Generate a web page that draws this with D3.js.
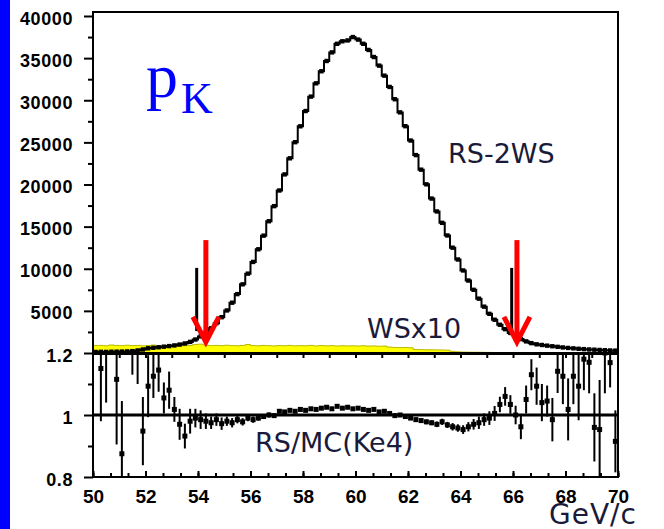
<!DOCTYPE html>
<html><head><meta charset="utf-8">
<script src="https://cdn.jsdelivr.net/npm/d3@7"></script>
<style>html,body{margin:0;padding:0;background:#fff;overflow:hidden}</style>
</head><body>
<svg id="c" width="664" height="529"></svg>
<script>
// ---- data ----
const binStart = 50, binWidth = 0.2, nBins = 100;
const rsMinus2ws = [
 120,140,130,150,160,170,190,220,300,420,
 560,620,680,750,820,900,1000,1130,1320,1600,
 1970,2420,2930,3540,4250,5050,5970,6990,8150,9420,
 10810,12310,13930,15640,17430,19290,21200,23110,25020,26910,
 28720,30430,32010,33440,34660,35680,36700,37000,37100,37500,
 37200,36700,35970,35130,34110,32920,31580,30120,28560,26920,
 25220,23490,21760,20020,18330,16800,15450,13950,12500,11100,
 9800,8600,7500,6450,5500,4650,3950,3350,2830,2380,
 1980,1650,1380,1170,1030,950,870,800,730,660,
 600,550,500,460,420,390,360,330,300,280];
const wsTimes10 = [
 880,900,860,950,900,870,920,880,900,860,
 890,940,870,900,850,880,930,860,890,1000,
 1050,930,880,900,870,920,880,860,900,1000,
 880,860,900,870,840,880,860,900,850,870,
 860,900,840,880,850,870,830,860,840,850,
 830,860,820,840,800,820,700,660,640,650,
 620,420,400,380,380,370,360,340,200,140,
 110,100,90,90,80,70,60,60,50,50,
 40,40,40,30,30,30,20,20,20,20,
 20,10,10,10,10,10,10,10,10,10];
const ratio = [
 null,1.15,1.22,null,1.115,0.875,null,1.26,1.25,0.948,
 1.093,1.125,1.145,1.055,1.08,1.018,0.97,0.932,0.98,0.99,
 0.985,0.98,0.975,0.985,0.972,0.98,0.975,0.985,0.978,0.99,
 0.985,0.99,0.995,1.0,0.998,1.012,1.01,1.015,1.012,1.018,
 1.015,1.02,1.018,1.022,1.025,1.02,1.028,1.022,1.025,1.02,
 1.022,1.018,1.015,1.018,1.01,1.012,1.005,0.998,1.0,0.995,
 0.99,0.985,0.982,0.978,0.975,0.97,0.978,0.968,0.962,0.958,
 0.953,0.962,0.97,0.975,0.985,0.99,1.005,1.034,1.06,1.034,
 1.0,0.962,1.05,1.13,1.093,1.04,1.045,0.985,1.141,1.125,
 1.018,1.125,1.093,1.18,1.17,0.96,0.953,1.2,1.169,0.915];
const ratioErr = [
 0,0.17,0.18,0,0.21,0.17,0,0.13,0.15,0.11,
 0.1,0.07,0.07,0.05,0.06,0.04,0.05,0.04,0.04,0.03,
 0.03,0.025,0.02,0.02,0.02,0.015,0.015,0.012,0.012,0.01,
 0.01,0.008,0.008,0.008,0.007,0.007,0.006,0.006,0.006,0.006,
 0.005,0.005,0.005,0.005,0.005,0.005,0.005,0.005,0.005,0.005,
 0.005,0.005,0.005,0.005,0.005,0.005,0.006,0.006,0.006,0.006,
 0.006,0.007,0.007,0.008,0.008,0.009,0.01,0.01,0.012,0.012,
 0.014,0.015,0.017,0.02,0.02,0.022,0.024,0.025,0.03,0.03,
 0.03,0.04,0.045,0.05,0.06,0.06,0.05,0.07,0.07,0.09,
 0.1,0.09,0.11,0.1,0.1,0.11,0.16,0.13,0.08,0.1];
const xTicks = [50,52,54,56,58,60,62,64,66,68,70];
const yTopTicks = [5000,10000,15000,20000,25000,30000,35000,40000];
const yBotTicks = [0.8,1,1.2];
const cutArrows = [54.3, 66.15];
const cutShadows = [53.95, 65.95];

// ---- scales ----
const svg = d3.select("#c");
const x = d3.scaleLinear().domain([50,70]).range([93,618]);
const yU = d3.scaleLinear().domain([0,40000]).range([353,16]);
const yL = d3.scaleLinear().domain([0.8,1.2]).range([477,353]);
const centers = d3.range(nBins).map(i => binStart + binWidth*(i+0.5));
const ink = "#000";
const txtCol = "#1a1a3a";

// blue side bar
svg.append("rect").attr("x",0).attr("y",0).attr("width",10).attr("height",529).attr("fill","#0000ff");

const defs = svg.append("defs");
defs.append("clipPath").attr("id","cu").append("rect").attr("x",x(50)).attr("y",12).attr("width",x(70)-x(50)).attr("height",yU(0)-12);
defs.append("clipPath").attr("id","cl").append("rect").attr("x",x(50)).attr("y",yL(1.2)).attr("width",x(70)-x(50)).attr("height",yL(0.8)-yL(1.2));

// ---- upper panel ----
const up = svg.append("g").attr("clip-path","url(#cu)");
const stepPts = (vals) => { const p = vals.map((v,i)=>[binStart+binWidth*i, v]); p.push([binStart+binWidth*nBins, vals[nBins-1]]); return p; };
const area = d3.area().x(d=>x(d[0])).y0(yU(0)).y1(d=>yU(d[1])).curve(d3.curveStepAfter);
up.append("path").attr("d", area(stepPts(wsTimes10))).attr("fill","#ffff00").attr("stroke","#b8b800").attr("stroke-width",1);
const line = d3.line().x(d=>x(d[0])).y(d=>yU(d[1])).curve(d3.curveStepAfter);
up.append("path").attr("d", line(stepPts(rsMinus2ws))).attr("fill","none").attr("stroke",ink).attr("stroke-width",2);
up.selectAll("rect.m").data(rsMinus2ws).join("rect").attr("class","m")
  .attr("x",(d,i)=>x(centers[i])-2.2).attr("y",d=>yU(d)-2.2).attr("width",4.4).attr("height",4.4).attr("fill",ink);

// black shadow lines + red arrows
svg.selectAll("line.sh").data(cutShadows).join("line").attr("class","sh")
  .attr("x1",d=>x(d)).attr("x2",d=>x(d)).attr("y1",yU(10100)).attr("y2",yU(2600))
  .attr("stroke",ink).attr("stroke-width",3);
const ar = svg.selectAll("g.ar").data(cutArrows).join("g").attr("class","ar");
ar.append("line").attr("x1",d=>x(d)).attr("x2",d=>x(d)).attr("y1",yU(13400)).attr("y2",yU(1600))
  .attr("stroke","#ff0000").attr("stroke-width",5);
ar.append("path").attr("d",d=>`M${x(d)-13},${yU(4300)} L${x(d)},${yU(1300)} L${x(d)+13},${yU(4300)}`)
  .attr("fill","none").attr("stroke","#ff0000").attr("stroke-width",5).attr("stroke-linejoin","miter");

// ---- lower panel ----
const lo = svg.append("g").attr("clip-path","url(#cl)");
lo.append("line").attr("x1",x(50)).attr("x2",x(70)).attr("y1",yL(1)).attr("y2",yL(1)).attr("stroke",ink).attr("stroke-width",3);
const rd = ratio.map((v,i)=>({c:centers[i], v, e:ratioErr[i]})).filter(d=>d.v!==null);
lo.selectAll("line.eb").data(rd).join("line").attr("class","eb")
  .attr("x1",d=>x(d.c)).attr("x2",d=>x(d.c)).attr("y1",d=>yL(d.v+d.e)).attr("y2",d=>yL(d.v-d.e))
  .attr("stroke",ink).attr("stroke-width",2);
lo.selectAll("rect.rm").data(rd).join("rect").attr("class","rm")
  .attr("x",d=>x(d.c)-2.5).attr("y",d=>yL(d.v)-2.5).attr("width",5).attr("height",5).attr("fill",ink);

// ---- frame ----
svg.append("rect").attr("x",x(50)).attr("y",12).attr("width",x(70)-x(50)).attr("height",yL(0.8)-12)
  .attr("fill","none").attr("stroke",ink).attr("stroke-width",2);
svg.append("line").attr("x1",x(50)).attr("x2",x(70)).attr("y1",yU(0)+0.5).attr("y2",yU(0)+0.5).attr("stroke",ink).attr("stroke-width",3);

// ---- axes ----
function styleAxis(g){ g.select(".domain").remove(); g.selectAll("line").attr("stroke",ink).attr("stroke-width",2); g.selectAll("text").attr("fill",ink); }
// upper y
const gyU = svg.append("g").attr("transform",`translate(${x(50)},0)`)
  .call(d3.axisLeft(yU).tickValues(yTopTicks).tickSize(9).tickPadding(11).tickFormat(d3.format("d")));
styleAxis(gyU); gyU.attr("font-size",18).attr("font-family","'Liberation Sans', Arial, sans-serif").attr("font-weight","bold").attr("letter-spacing","0.6");
gyU.selectAll("text").attr("dy","0.45em");
const gyUm = svg.append("g").attr("transform",`translate(${x(50)},0)`)
  .call(d3.axisLeft(yU).tickValues(d3.range(2500,40000,5000)).tickSize(5).tickFormat(""));
styleAxis(gyUm);
// lower y
const gyL = svg.append("g").attr("transform",`translate(${x(50)},0)`)
  .call(d3.axisLeft(yL).tickValues(yBotTicks).tickSize(9).tickPadding(11).tickFormat(d=>d===1?"1":d3.format(".1f")(d)));
styleAxis(gyL); gyL.attr("font-size",18).attr("font-family","'Liberation Sans', Arial, sans-serif").attr("font-weight","bold").attr("letter-spacing","0.6");
gyL.selectAll("text").attr("dy","0.45em");
const gyLm = svg.append("g").attr("transform",`translate(${x(50)},0)`)
  .call(d3.axisLeft(yL).tickValues([0.9,1.1]).tickSize(5).tickFormat(""));
styleAxis(gyLm);
// bottom x
const gx = svg.append("g").attr("transform",`translate(0,${yL(0.8)})`)
  .call(d3.axisBottom(x).tickValues(xTicks).tickSizeInner(-6).tickSizeOuter(0).tickPadding(13).tickFormat(d3.format("d")));
styleAxis(gx); gx.attr("font-size",19).attr("font-family","'Liberation Sans', Arial, sans-serif").attr("font-weight","bold");
const gxm = svg.append("g").attr("transform",`translate(0,${yL(0.8)})`)
  .call(d3.axisBottom(x).tickValues(d3.range(0,31).map(i=>50+i*2/3)).tickSizeInner(-4).tickSizeOuter(0).tickFormat(""));
styleAxis(gxm);
// upper panel x ticks on the divider
const gxu = svg.append("g").attr("transform",`translate(0,${yU(0)+1})`)
  .call(d3.axisBottom(x).tickValues(d3.range(51,70,1)).tickSizeInner(4).tickSizeOuter(0).tickFormat(""));
styleAxis(gxu);

// ---- annotations ----
const lbl = svg.append("g").attr("font-family","'DejaVu Sans', Verdana, sans-serif").attr("fill",txtCol);
lbl.append("text").attr("x",448).attr("y",163).attr("font-size",27).text("RS-2WS");
lbl.append("text").attr("x",367).attr("y",338).attr("font-size",27).text("WSx10");
lbl.append("text").attr("x",255).attr("y",452).attr("font-size",27).text("RS/MC(Ke4)");
lbl.append("text").attr("x",549).attr("y",524).attr("font-size",28).attr("letter-spacing",1).text("GeV/c");
const pk = svg.append("text").attr("font-family","'Liberation Serif', 'Times New Roman', serif").attr("fill","#0000ff");
pk.append("tspan").attr("x",146).attr("y",97).attr("font-size",64).text("p");
pk.append("tspan").attr("x",181).attr("y",113).attr("font-size",44).text("K");
</script>
</body></html>
